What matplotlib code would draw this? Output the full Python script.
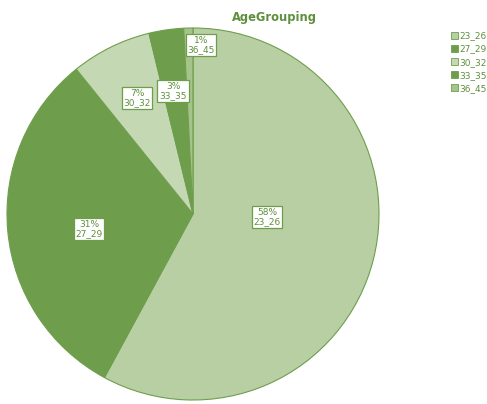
import matplotlib
matplotlib.use('Agg')
import matplotlib.pyplot as plt
from matplotlib.patches import Patch

groups = ['23_26', '27_29', '30_32', '33_35', '36_45']
shares = [57.9, 31.3, 7.0, 3.0, 0.8]
pct_labels = ['58%', '31%', '7%', '3%', '1%']
colors = ['#b8cfa4', '#6e9e4c', '#c4d8b4', '#6e9e4c', '#a4c48c']
edge = '#6e9e4c'
text_green = '#5e8f3c'

# label box centres in pixel coords (x right, y down)
label_xy = [(267, 217), (89, 229), (137, 98), (173, 91), (201, 45)]

W, H = 487, 404
fig = plt.figure(figsize=(W / 100, H / 100), dpi=100)
ax = fig.add_axes([0, 0, 1, 1])

ax.pie(shares, colors=colors, startangle=90, counterclock=False,
       center=(193, H - 214), radius=186, frame=True,
       wedgeprops=dict(edgecolor=edge, linewidth=0.8))
ax.set_xlim(0, W)
ax.set_ylim(0, H)
ax.set_aspect('equal')
ax.axis('off')

for (x, y), p, g in zip(label_xy, pct_labels, groups):
	ax.text(x, H - y, p + '\n' + g, ha='center', va='center', fontsize=6.5,
	        color=text_green, linespacing=1.0,
	        bbox=dict(boxstyle='square,pad=0.2', fc='white', ec=edge, lw=0.9))

ax.text(274, H - 17, 'AgeGrouping', ha='center', va='center', fontsize=8.3,
        fontweight='bold', color=text_green)

handles = [Patch(facecolor=c, edgecolor=edge, linewidth=0.6) for c in colors]
leg = fig.legend(handles, groups, loc='upper left', bbox_to_anchor=(446 / W, 1 - 27 / H),
                 frameon=False, fontsize=6.5, handlelength=0.8, handleheight=0.8,
                 handletextpad=0.2, labelspacing=0.45, borderpad=0)
for t in leg.get_texts():
	t.set_color(text_green)

fig.savefig('out.png', dpi=100)
